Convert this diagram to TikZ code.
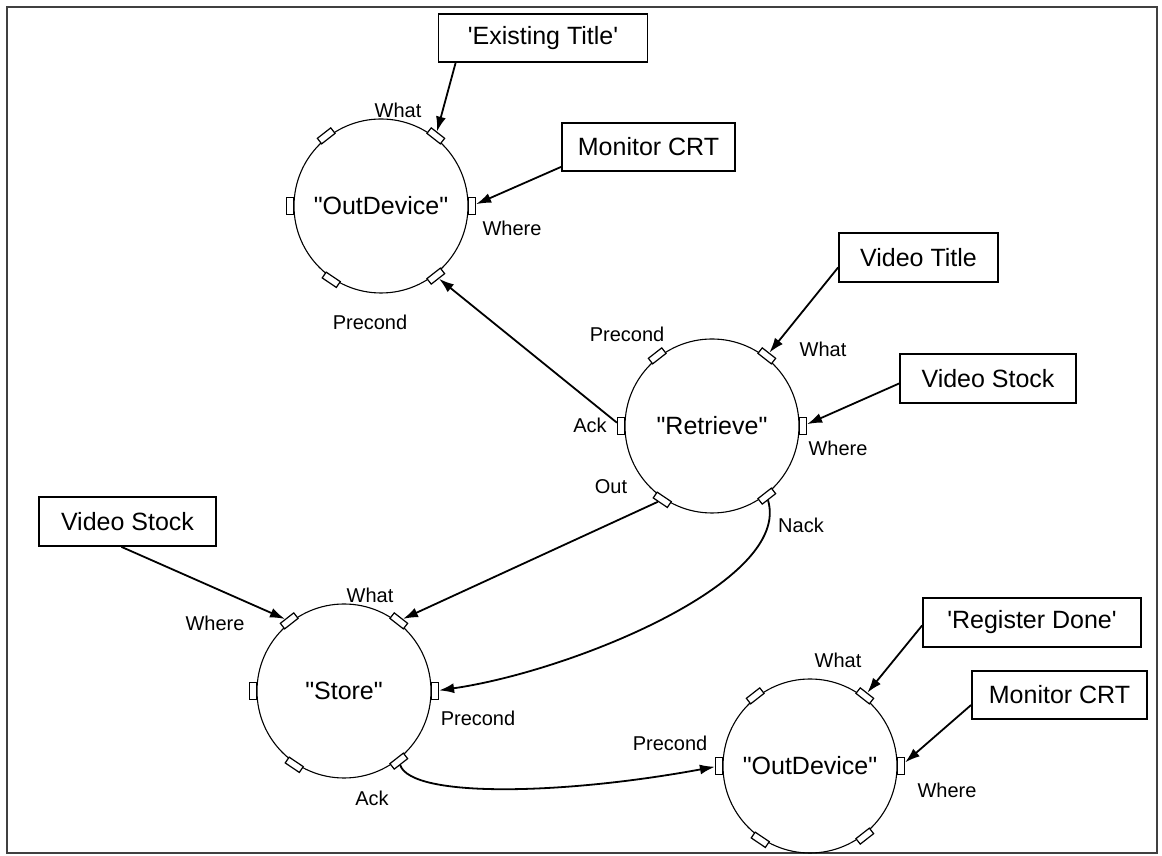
\documentclass[tikz,border=0pt]{standalone}
\usepackage{fontspec}
\setmainfont{Liberation Sans}[Ligatures=TeXOff]
\usetikzlibrary{arrows.meta,calc}
\begin{document}
\begin{tikzpicture}[x=1pt,y=1pt,
  proc/.style={circle,draw,line width=1.1pt,minimum size=174pt,inner sep=0pt,font=\fontsize{25}{30}\selectfont},
  port/.style={rectangle,draw,line width=1.2pt,fill=white,minimum width=17pt,minimum height=7pt,inner sep=0pt},
  val/.style={rectangle,draw,line width=1.8pt,inner sep=0pt,font=\fontsize{25}{30}\selectfont},
  lab/.style={font=\fontsize{20}{24}\selectfont,inner sep=0pt},
  flow/.style={line width=1.8pt,-{Latex[length=15pt,width=10pt]}}]
\useasboundingbox (0,0) rectangle (1162,856);
\draw[line width=1.8pt,black!75] (7,3) rectangle (1157,849);

% processes
\node[proc] (od1) at (381,650) {"OutDevice"};
\node[proc] (ret) at (712,430) {"Retrieve"};
\node[proc] (sto) at (344,165) {"Store"};
\node[proc] (od2) at (810,90) {"OutDevice"};

% ports
\foreach \c in {od1,ret,sto,od2}{
  \foreach \a/\n/\r in {52/ne/89,128/nw/89,0/e/91,180/w/91,-52/se/89,-124/sw/89}{
    \node[port,rotate=\a-90] (\c-\n) at ($(\c)+(\a:\r)$) {};
  }
}

% value boxes
\node[val,minimum width=209pt,minimum height=48pt] (et) at (543,818) {'Existing Title'};
\node[val,minimum width=173pt,minimum height=48pt] (mon1) at (648.5,709) {Monitor CRT};
\node[val,minimum width=159pt,minimum height=49pt] (vt) at (918.5,598.5) {Video Title};
\node[val,minimum width=176pt,minimum height=49pt] (vs1) at (988,477.5) {Video Stock};
\node[val,minimum width=177pt,minimum height=49pt] (vs2) at (127.5,334.5) {Video Stock};
\node[val,minimum width=218pt,minimum height=49pt] (rd) at (1032,233.5) {'Register Done'};
\node[val,minimum width=175pt,minimum height=48pt] (mon2) at (1059.5,161) {Monitor CRT};

% port labels
\node[lab] (l1) at (398,746) {What};
\node[lab] (l2) at (512,628) {Where};
\node[lab] (l3) at (370,534) {Precond};
\node[lab] (l4) at (627,522) {Precond};
\node[lab] (l5) at (823,507) {What};
\node[lab] (l6) at (838,408) {Where};
\node[lab] (l7) at (590,431) {Ack};
\node[lab] (l8) at (611,369) {Out};
\node[lab] (l9) at (801,331) {Nack};
\node[lab] (l10) at (370,261) {What};
\node[lab] (l11) at (215,233) {Where};
\node[lab] (l12) at (478,138) {Precond};
\node[lab] (l13) at (372,58) {Ack};
\node[lab] (l14) at (838,196) {What};
\node[lab] (l15) at (670,113) {Precond};
\node[lab] (l16) at (947,66) {Where};

% connectors
\draw[flow] ([xshift=18pt]et.south west) -- (od1-ne);
\draw[flow] ([yshift=5pt]mon1.south west) -- (od1-e);
\draw[flow] (ret-w) -- (od1-se);
\draw[flow] ([yshift=-10pt]vt.west) -- (ret-ne);
\draw[flow] ([yshift=-5pt]vs1.west) -- (ret-e);
\draw[flow] (ret-sw) -- (sto-ne);
\draw[flow] (ret-se) .. controls +(25,-85) and +(138,20) .. (sto-e);
\draw[flow] ([xshift=-6pt]vs2.south) -- (sto-nw);
\draw[flow] (sto-se) .. controls +(13,-37) and +(-157,-29) .. (od2-w);
\draw[flow] ([yshift=-3pt]rd.west) -- (od2-ne);
\draw[flow] ([yshift=-10pt]mon2.west) -- (od2-e);
\end{tikzpicture}
\end{document}
